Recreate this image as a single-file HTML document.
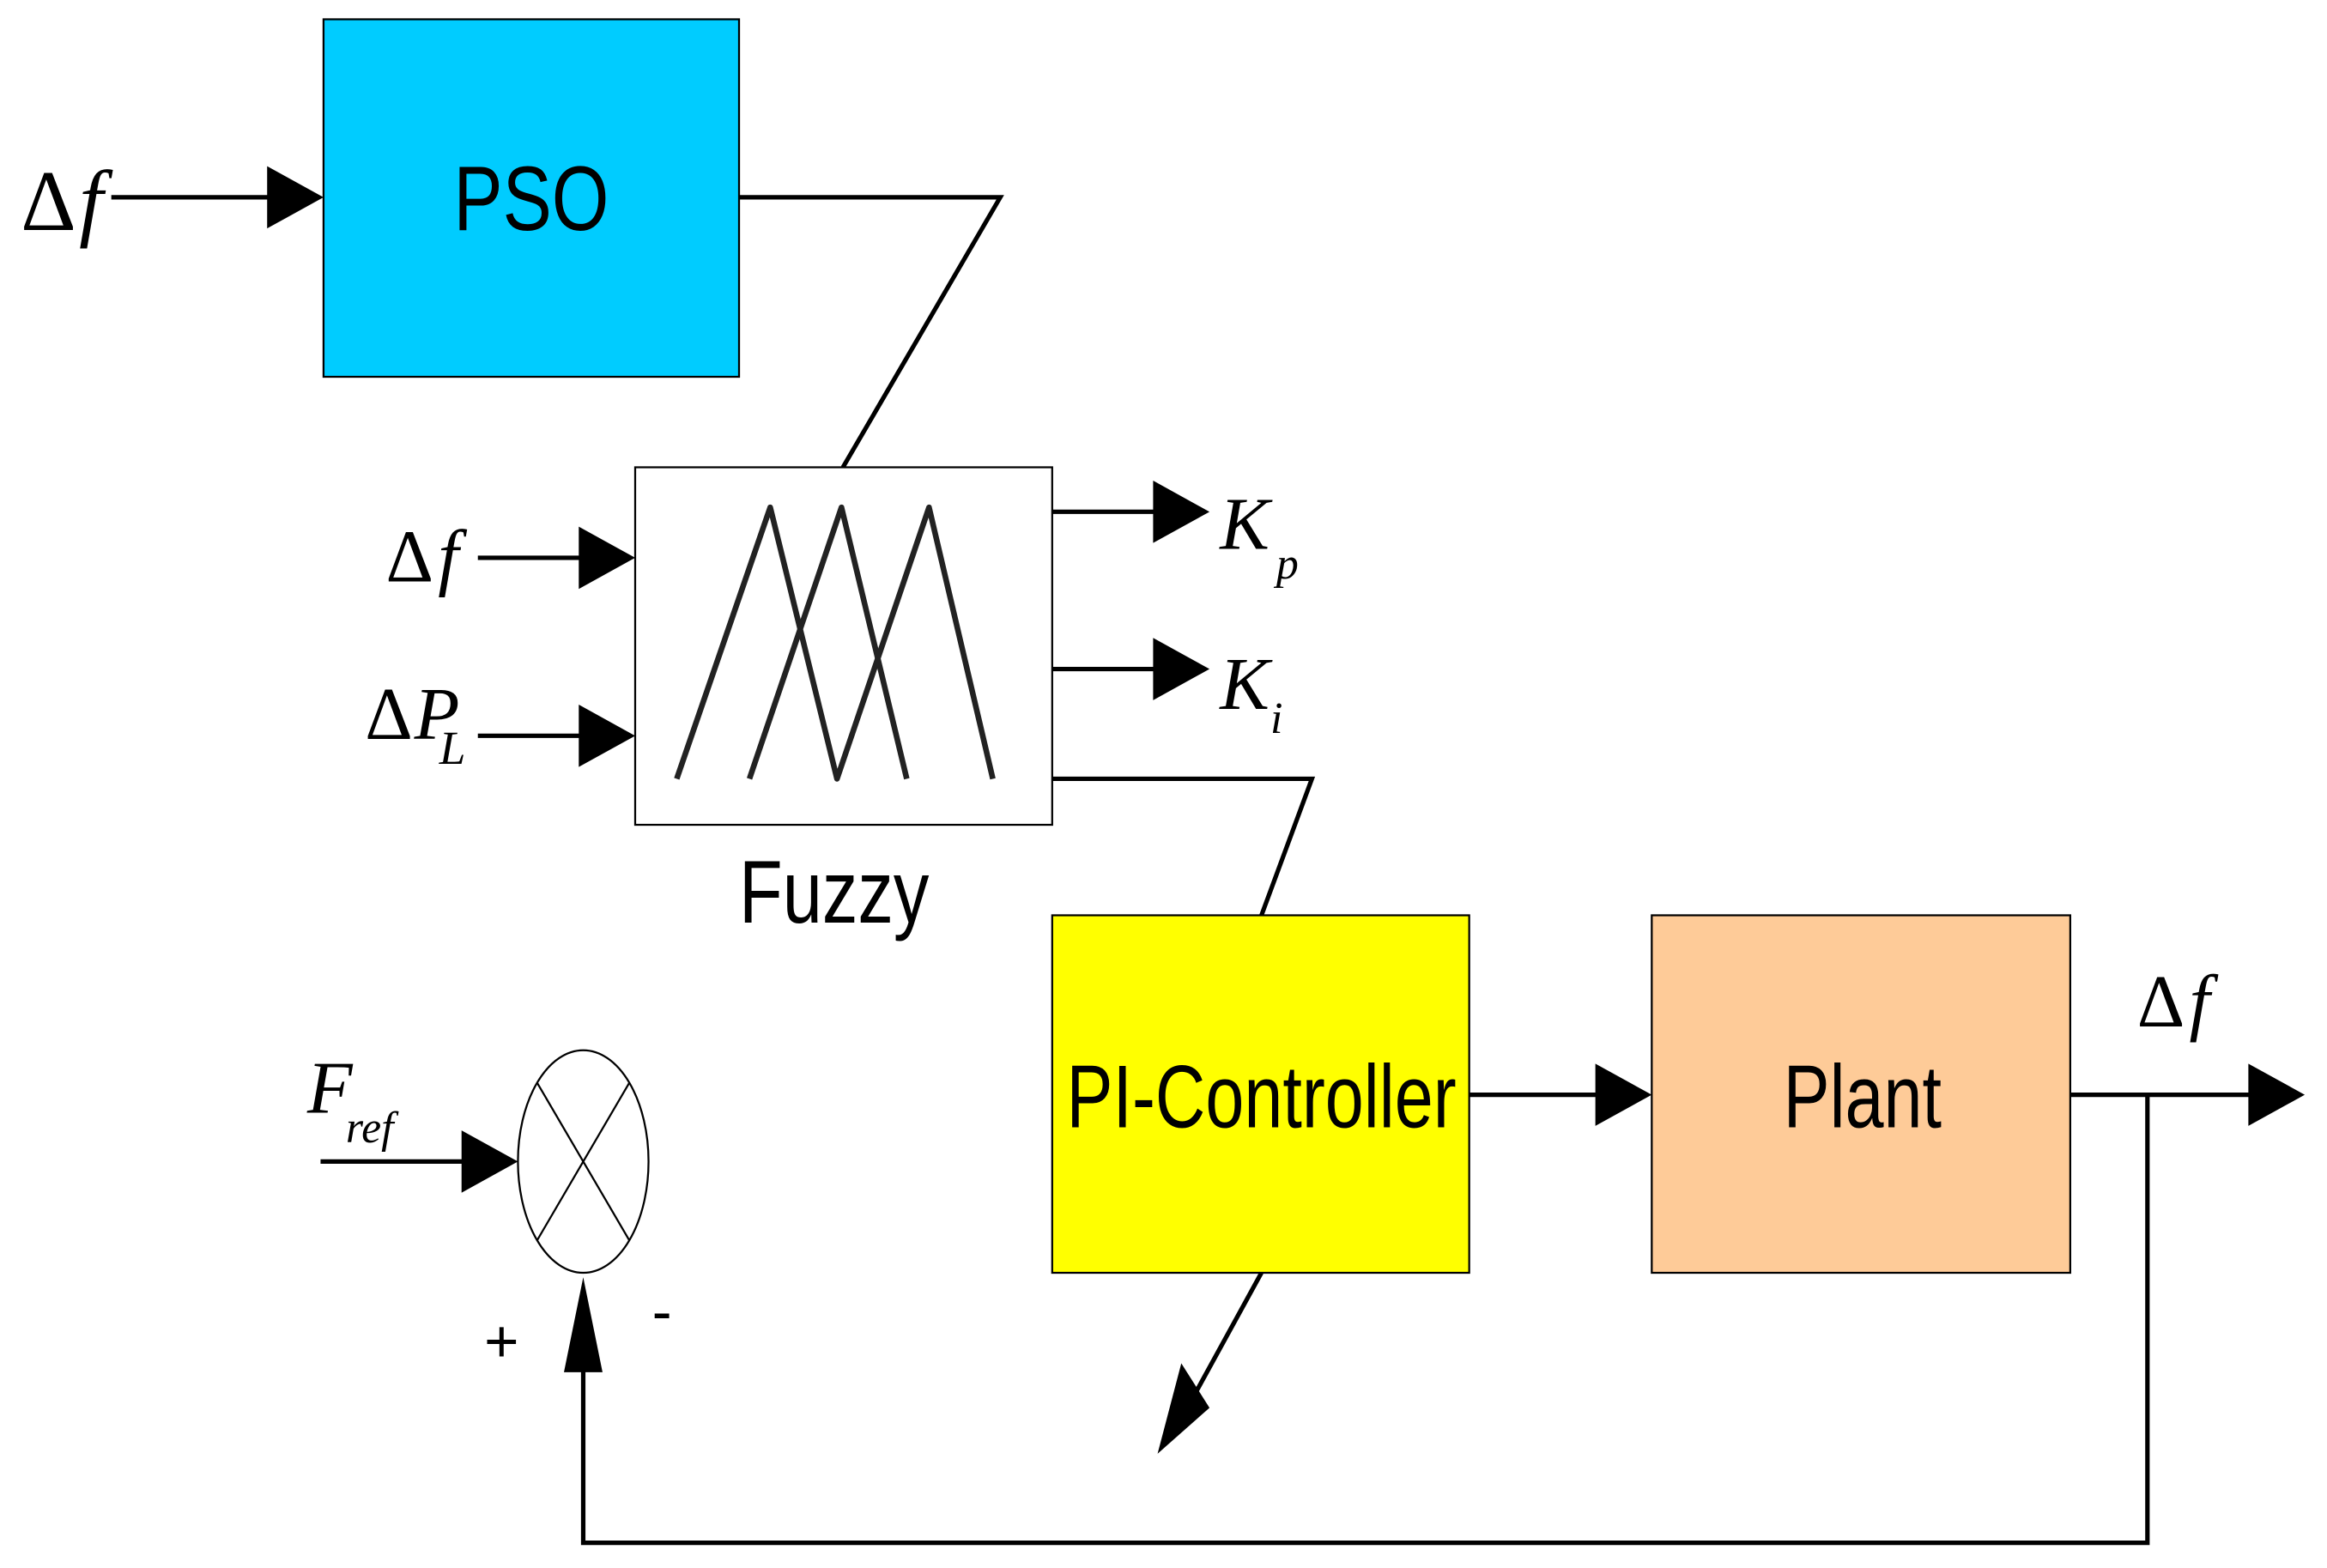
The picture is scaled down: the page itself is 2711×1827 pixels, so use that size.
<!DOCTYPE html>
<html><head><meta charset="utf-8"><style>
html,body{margin:0;padding:0;background:#fff;}
svg{display:block;}
.lab{font-family:"Liberation Sans",sans-serif;}
.m{font-family:"Liberation Serif",serif;font-style:italic;}
.u{font-style:normal;}
</style></head><body>
<svg width="2711" height="1827" viewBox="0 0 1568 1057" preserveAspectRatio="none" xmlns="http://www.w3.org/2000/svg">
<rect width="1568" height="1057" fill="#fff"/>
<g stroke="#000" stroke-width="1.3">
<rect x="218" y="13" width="280" height="241" fill="#00ccff"/>
<rect x="428" y="315" width="281" height="241" fill="#fff"/>
<rect x="709" y="617" width="281" height="241" fill="#ffff00"/>
<rect x="1113" y="617" width="282" height="241" fill="#fecb98"/>
<ellipse cx="393" cy="783" rx="44" ry="75" fill="#fff"/>
<line x1="362" y1="730" x2="424" y2="836"/>
<line x1="424" y1="730" x2="362" y2="836"/>
</g>
<g stroke="#222" stroke-width="3.8" fill="none" stroke-linejoin="round">
<polyline points="456,525 519,342 564,525 626,342 669,525"/>
<polyline points="505,525 567,342 611,525"/>
</g>
<g stroke="#000" stroke-width="3" fill="none">
<line x1="75" y1="133" x2="185" y2="133"/>
<polyline points="498,133 674,133 568,315"/>
<line x1="322" y1="376" x2="395" y2="376"/>
<line x1="322" y1="496" x2="395" y2="496"/>
<line x1="709" y1="345" x2="782" y2="345"/>
<line x1="709" y1="451" x2="782" y2="451"/>
<polyline points="709,525 884,525 850,617"/>
<line x1="990" y1="738" x2="1080" y2="738"/>
<line x1="1395" y1="738" x2="1520" y2="738"/>
<polyline points="1447,738 1447,1040 393,1040 393,920"/>
<line x1="216" y1="783" x2="315" y2="783"/>
<line x1="850" y1="858" x2="805" y2="940"/>
</g>
<g fill="#000">
<polygon points="180,112 218,133 180,154"/>
<polygon points="390,355 428,376 390,397"/>
<polygon points="390,475 428,496 390,517"/>
<polygon points="777,324 815,345 777,366"/>
<polygon points="777,430 815,451 777,472"/>
<polygon points="1075,717 1113,738 1075,759"/>
<polygon points="1515,717 1553,738 1515,759"/>
<polygon points="311,762 349,783 311,804"/>
<polygon points="380,925 393,861 406,925"/>
<polygon points="796,919 815,949 780,980"/>
</g>
<g class="lab" text-anchor="middle" fill="#000">
<text x="358" y="155" font-size="62" transform="translate(358,0) scale(0.8,1) translate(-358,0)">PSO</text>
<text x="562" y="622" font-size="60" transform="translate(562,0) scale(0.8,1) translate(-562,0)">Fuzzy</text>
<text x="850" y="760" font-size="60" transform="translate(850,0) scale(0.78,1) translate(-850,0)">PI-Controller</text>
<text x="1255" y="760" font-size="60" transform="translate(1255,0) scale(0.78,1) translate(-1255,0)">Plant</text>
<text x="338" y="918" font-size="40">+</text>
<text x="446" y="898" font-size="40">-</text>
</g>
<g class="m" fill="#000">
<text x="14" y="155" font-size="58"><tspan class="u">Δ</tspan><tspan dx="2">f</tspan></text>
<text x="260" y="392" font-size="50"><tspan class="u">Δ</tspan><tspan dx="3">f</tspan></text>
<text x="246" y="498" font-size="50"><tspan class="u">Δ</tspan><tspan dx="1">P</tspan></text>
<text x="296" y="515" font-size="32">L</text>
<text x="822" y="370" font-size="50">K</text>
<text x="860" y="390" font-size="30">p</text>
<text x="822" y="478" font-size="50">K</text>
<text x="856" y="494" font-size="30">i</text>
<text x="1440" y="692" font-size="50"><tspan class="u">Δ</tspan><tspan dx="3">f</tspan></text>
<text x="207" y="750" font-size="50">F</text>
<text x="233" y="770" font-size="30">ref</text>
</g>
</svg>
</body></html>
